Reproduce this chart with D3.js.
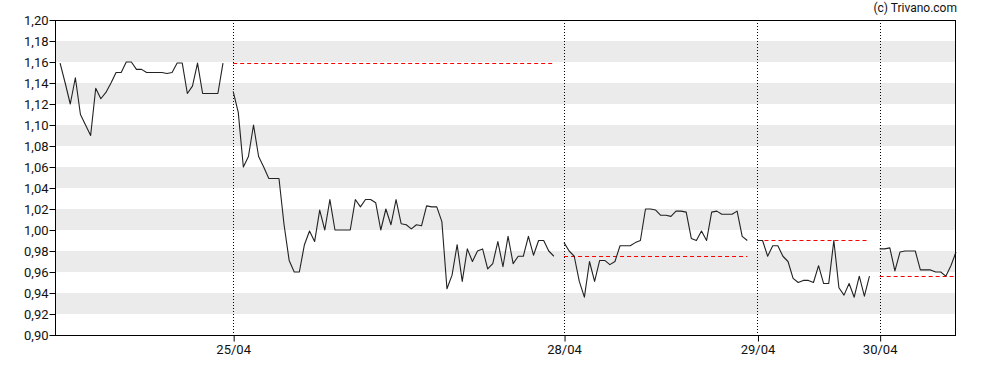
<!DOCTYPE html>
<html><head><meta charset="utf-8">
<script src="https://cdn.jsdelivr.net/npm/d3@7"></script>
<style>body{margin:0;background:#fff}svg{display:block}text{font-family:Roboto,sans-serif}</style>
</head><body><svg id="c" width="988" height="370"></svg>
<script>
// ---- data ----
const dayLabels = ["24/04", "25/04", "28/04", "29/04", "30/04"];
const dayStart = [0, 34, 99, 137, 161]; // intraday slot index of each session's first quote
const day1 = [1.159,1.14,1.12,1.145,1.11,1.10,1.09,1.135,1.125,1.131,1.14,1.15,1.15,1.16,1.16,1.153,1.153,1.15,1.15,1.15,1.15,1.149,1.15,1.159,1.159,1.13,1.137,1.159,1.13,1.13,1.13,1.13,1.159];
const day2 = [1.132,1.112,1.06,1.07,1.10,1.07,1.06,1.049,1.049,1.049,1.005,0.971,0.96,0.96,0.986,0.999,0.989,1.019,1.00,1.029,1.00,1.00,1.00,1.00,1.029,1.022,1.029,1.029,1.026,1.00,1.02,1.005,1.029,1.006,1.005,1.001,1.005,1.004,1.023,1.022,1.022,1.008,0.944,0.957,0.986,0.951,0.982,0.970,0.980,0.982,0.963,0.968,0.989,0.965,0.994,0.968,0.975,0.975,0.994,0.976,0.99,0.99,0.98,0.975];
const day3 = [0.988,0.98,0.975,0.951,0.936,0.970,0.951,0.971,0.971,0.967,0.970,0.985,0.985,0.985,0.988,0.99,1.02,1.02,1.019,1.014,1.014,1.013,1.018,1.018,1.017,0.992,0.990,0.999,0.99,1.017,1.018,1.015,1.015,1.015,1.018,0.994,0.99];
const day4 = [0.99,0.99,0.975,0.985,0.985,0.975,0.970,0.954,0.950,0.952,0.952,0.950,0.966,0.949,0.949,0.99,0.945,0.938,0.949,0.936,0.956,0.937,0.956];
const day5 = [0.982,0.982,0.983,0.961,0.979,0.98,0.98,0.98,0.962,0.962,0.962,0.96,0.96,0.956,0.966,0.979];
const days = [day1, day2, day3, day4, day5];
const yTicks = d3.range(0.90, 1.2001, 0.02);
const credit = "(c) Trivano.com";

// ---- layout ----
const L = 55, R = 956, T = 20, B = 335;
const svg = d3.select("#c");
const x = d3.scaleLinear().domain([-1, 176]).range([L, R]);
const y = d3.scaleLinear().domain([0.90, 1.20]).range([B, T]);
const fmt = v => d3.format(".2f")(v).replace(".", ",");

// bands
const bands = yTicks.filter((t, i) => i % 2 === 1 && i < yTicks.length - 1);
svg.append("g").selectAll("rect").data(bands).join("rect")
  .attr("x", L).attr("width", R - L)
  .attr("y", d => y(d + 0.02)).attr("height", d => y(d) - y(d + 0.02))
  .attr("fill", "#ebebeb");

// day separators
const sep = dayStart.slice(1);
svg.append("g").selectAll("line").data(sep).join("line")
  .attr("x1", d => Math.round(x(d)) + 0.5).attr("x2", d => Math.round(x(d)) + 0.5)
  .attr("y1", T).attr("y2", B)
  .attr("stroke", "#000").attr("stroke-width", 1).attr("stroke-dasharray", "1,2");

// previous close reference lines
const refs = days.slice(1).map((d, i) => ({
  start: dayStart[i + 1], end: dayStart[i + 1] + d.length - 1,
  v: days[i][days[i].length - 1]
}));
svg.append("g").selectAll("line").data(refs).join("line")
  .attr("x1", d => x(d.start)).attr("x2", d => x(d.end))
  .attr("y1", d => Math.round(y(d.v)) + 0.5).attr("y2", d => Math.round(y(d.v)) + 0.5)
  .attr("stroke", "#ff0000").attr("stroke-width", 1).attr("stroke-dasharray", "4,3");

// price lines
const line = d3.line().x(d => x(d[0])).y(d => y(d[1]));
svg.append("g").selectAll("path").data(days.map((d, i) => d.map((v, j) => [dayStart[i] + j, v])))
  .join("path").attr("d", line).attr("fill", "none")
  .attr("stroke", "#222").attr("stroke-width", 1.1).attr("stroke-linejoin", "round");

// axes
const yAxis = svg.append("g").attr("transform", `translate(${L + 0.5},0)`)
  .call(d3.axisLeft(y).tickValues(yTicks).tickFormat(fmt).tickSize(6).tickPadding(1));
const xAxis = svg.append("g").attr("transform", `translate(0,${B + 0.5})`)
  .call(d3.axisBottom(x).tickValues(sep).tickFormat((d, i) => dayLabels[i + 1]).tickSize(6).tickPadding(3));
[yAxis, xAxis].forEach(g => {
  g.select(".domain").remove();
  g.selectAll("text").attr("font-size", 13).attr("fill", "#111").attr("font-family", "Roboto, sans-serif");
  g.selectAll("line").attr("stroke", "#000");
});
xAxis.selectAll(".tick line").attr("transform", "translate(0.5,0)");

// frame
svg.append("rect").attr("x", L + 0.5).attr("y", T + 0.5).attr("width", R - L - 1).attr("height", B - T)
  .attr("fill", "none").attr("stroke", "#000").attr("stroke-width", 1);

svg.append("text").attr("x", 957).attr("y", 12).attr("text-anchor", "end")
  .attr("font-size", 12).attr("fill", "#111").text(credit);
</script></body></html>
